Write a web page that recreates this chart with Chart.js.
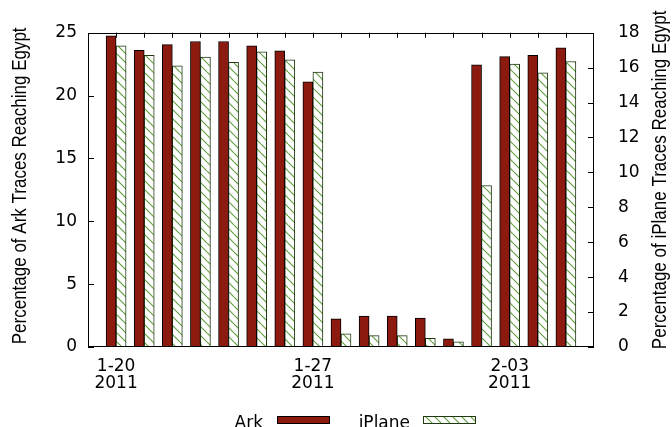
<!DOCTYPE html>
<html>
<head>
<meta charset="utf-8">
<script src="https://cdn.jsdelivr.net/npm/chart.js@4/dist/chart.umd.min.js"></script>
<style>
  html, body { margin: 0; padding: 0; background: #fff; }
  #wrap { width: 672px; height: 427px; }
</style>
</head>
<body>
<div id="wrap"><canvas id="c" width="672" height="427"></canvas></div>
<script>
// Daily share of traceroutes that reached Egypt, Jan 20 – Feb 5 2011
const days = ['1-20','1-21','1-22','1-23','1-24','1-25','1-26','1-27','1-28',
              '1-29','1-30','1-31','2-01','2-02','2-03','2-04','2-05'];
const labelledDays = ['1-20', '1-27', '2-03'];
const year = '2011';
const arkPct    = [24.75, 23.6, 24.05, 24.3, 24.3, 23.95, 23.55, 21.1, 2.25,
                   2.45, 2.45, 2.3, 0.65, 22.45, 23.1, 23.2, 23.8];
const iplanePct = [17.25, 16.7, 16.1, 16.6, 16.3, 16.9, 16.45, 15.75, 0.75,
                   0.65, 0.65, 0.5, 0.3, 9.25, 16.2, 15.7, 16.35];
const arkAxis    = { min: 0, max: 25, step: 5 };
const iplaneAxis = { min: 0, max: 18, step: 2 };
const arkTitle    = 'Percentage of Ark Traces Reaching Egypt';
const iplaneTitle = 'Percentage of iPlane Traces Reaching Egypt';

const TICK_FONT = { family: '"DejaVu Sans", sans-serif', size: 17, lineHeight: 1.02 };
const TITLE_FONT = '17px "Liberation Sans", Arial, sans-serif';

// diagonal hatch fill for the iPlane bars
function makeHatch() {
  const s = 9;
  const c = document.createElement('canvas');
  c.width = s; c.height = s;
  const g = c.getContext('2d');
  g.fillStyle = '#ffffff';
  g.fillRect(0, 0, s, s);
  g.strokeStyle = '#5f9e3c';
  g.lineWidth = 1.1;
  g.beginPath();
  g.moveTo(0, 0); g.lineTo(s, s);
  g.moveTo(-s, 0); g.lineTo(0, s);
  g.moveTo(0, -s); g.lineTo(s, 0);
  g.stroke();
  return g.createPattern(c, 'repeat');
}
const ctx = document.getElementById('c').getContext('2d');
const hatch = makeHatch();

// plot frame with inward tick marks
const framePlugin = {
  id: 'frame',
  beforeDatasetsDraw(chart) {
    const { ctx, chartArea: a, scales: { x, y, y2 } } = chart;
    ctx.save();
    ctx.strokeStyle = '#000';
    ctx.lineWidth = 1;
    ctx.beginPath();
    days.forEach((d, i) => {
      const px = Math.round(x.getPixelForValue(i)) + 0.5;
      ctx.moveTo(px, a.top); ctx.lineTo(px, a.top + 5);
      ctx.moveTo(px, a.bottom); ctx.lineTo(px, a.bottom - 5);
    });
    y.ticks.forEach(t => {
      const py = Math.round(y.getPixelForValue(t.value)) + 0.5;
      ctx.moveTo(a.left, py); ctx.lineTo(a.left + 6, py);
    });
    y2.ticks.forEach(t => {
      const py = Math.round(y2.getPixelForValue(t.value)) + 0.5;
      ctx.moveTo(a.right, py); ctx.lineTo(a.right - 6, py);
    });
    ctx.stroke();
    ctx.restore();
  },
  afterDatasetsDraw(chart) {
    const { ctx, chartArea: a } = chart;
    ctx.save();
    ctx.strokeStyle = '#000';
    ctx.lineWidth = 1;
    ctx.strokeRect(Math.round(a.left) + 0.5, Math.round(a.top) + 0.5,
                   Math.round(a.right - a.left) - 1, Math.round(a.bottom - a.top) - 1);
    ctx.restore();
  }
};

// vertical axis titles, both reading bottom to top
const titlePlugin = {
  id: 'axisTitles',
  afterDraw(chart) {
    const { ctx, chartArea: a } = chart;
    const drawTitle = (text, cx, cy) => {
      ctx.save();
      ctx.translate(cx, cy);
      ctx.scale(1.2, 1);
      ctx.rotate(-Math.PI / 2);
      ctx.font = TITLE_FONT;
      ctx.fillStyle = '#000';
      ctx.textAlign = 'center';
      ctx.textBaseline = 'middle';
      ctx.fillText(text, 0, 0);
      ctx.restore();
    };
    drawTitle(arkTitle, 20, (a.top + a.bottom) / 2 - 4);
    drawTitle(iplaneTitle, 660, (a.top + a.bottom) / 2 - 10);
  }
};

// key below the plot: label text followed by its sample box
const keyPlugin = {
  id: 'key',
  afterDraw(chart) {
    const { ctx } = chart;
    const entries = [{ textRight: 263, boxLeft: 277 }, { textRight: 410, boxLeft: 423 }];
    ctx.save();
    ctx.font = '17px "DejaVu Sans", sans-serif';
    ctx.textAlign = 'right';
    ctx.textBaseline = 'alphabetic';
    chart.data.datasets.forEach((ds, i) => {
      const e = entries[i];
      ctx.fillStyle = '#000';
      ctx.fillText(ds.label, e.textRight, 428);
      ctx.fillStyle = ds.backgroundColor;
      ctx.fillRect(e.boxLeft, 416, 53, 8);
      ctx.strokeStyle = ds.borderColor;
      ctx.lineWidth = 1;
      ctx.strokeRect(e.boxLeft + 0.5, 416.5, 52, 7);
    });
    ctx.restore();
  }
};

Chart.defaults.color = '#000';

new Chart(ctx, {
  type: 'bar',
  data: {
    datasets: [
      {
        label: 'Ark',
        data: arkPct.map((v, i) => ({ x: i, y: v })),
        yAxisID: 'y',
        backgroundColor: '#8c1a0e',
        borderColor: '#000000',
        borderWidth: 1,
        borderSkipped: false,
        barThickness: 10
      },
      {
        label: 'iPlane',
        data: iplanePct.map((v, i) => ({ x: i, y: v })),
        yAxisID: 'y2',
        backgroundColor: hatch,
        borderColor: '#1f3a10',
        borderWidth: 1,
        borderSkipped: false,
        barThickness: 10
      }
    ]
  },
  options: {
    responsive: false,
    animation: false,
    devicePixelRatio: 1,
    layout: { padding: { top: 20, left: 0, right: 0, bottom: 0 } },
    plugins: { legend: { display: false }, tooltip: { enabled: false } },
    scales: {
      x: {
        type: 'linear',
        position: 'bottom',
        min: -1,
        max: days.length,
        offset: false,
        grid: { display: false, drawTicks: false, offset: false },
        border: { display: false },
        ticks: {
          stepSize: 1,
          autoSkip: false,
          maxRotation: 0,
          padding: 11,
          font: TICK_FONT,
          callback: v => labelledDays.includes(days[v]) ? [days[v], year] : ''
        },
        afterFit: s => { s.height = 80; }
      },
      y: {
        position: 'left',
        min: arkAxis.min,
        max: arkAxis.max,
        grid: { display: false, drawTicks: false },
        border: { display: false },
        ticks: { stepSize: arkAxis.step, padding: 11, font: TICK_FONT },
        afterFit: s => { s.width = 88; }
      },
      y2: {
        position: 'right',
        min: iplaneAxis.min,
        max: iplaneAxis.max,
        grid: { display: false, drawTicks: false },
        border: { display: false },
        ticks: { stepSize: iplaneAxis.step, padding: 24, font: TICK_FONT },
        afterFit: s => { s.width = 78; }
      }
    }
  },
  plugins: [framePlugin, titlePlugin, keyPlugin]
});
</script>
</body>
</html>
